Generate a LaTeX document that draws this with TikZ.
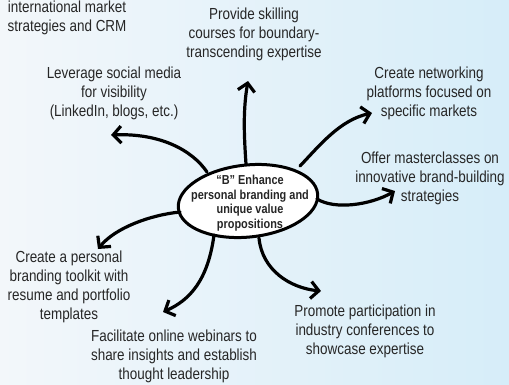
\documentclass[tikz,border=0pt]{standalone}
\usepackage{fontspec}
\setmainfont{Liberation Sans}[FakeStretch=0.84]
\usetikzlibrary{arrows.meta}
\definecolor{bgleft}{HTML}{F3F7FA}
\definecolor{bgright}{HTML}{D6EDF9}
\tikzset{
  lbl/.style={align=center, inner sep=0pt, font=\fontsize{16}{19}\selectfont, text=black!85},
  arr/.style={line width=3.2pt, line cap=round, -{Straight Barb[length=8pt,width=17pt,line width=3.2pt]}}
}
\begin{document}
\begin{tikzpicture}[x=1pt,y=-1pt]
\useasboundingbox (0,0) rectangle (509,384);
\shade[left color=bgleft, right color=bgright] (0,0) rectangle (509,384);

\draw[line width=3pt, fill=white, rotate around={6:(248,201)}] (248,201) ellipse [x radius=70, y radius=36];
\node[align=center, inner sep=0pt, font=\bfseries\fontsize{13}{14.5}\selectfont, text=black!85] (c) at (250,203) {“B” Enhance\\personal branding and\\unique value\\propositions};

\node[lbl] (tl) at (67,17.5) {international market\\strategies and CRM};
\node[lbl] (up) at (254,34) {Provide skilling\\courses for boundary-\\transcending expertise};
\node[lbl] (lv) at (114,93) {Leverage social media\\for visibility\\(LinkedIn, blogs, etc.)};
\node[lbl] (nw) at (429,93) {Create networking\\platforms focused on\\specific markets};
\node[lbl] (mc) at (430,178) {Offer masterclasses on\\innovative brand-building\\strategies};
\node[lbl] (tk) at (69,286.5) {Create a personal\\branding toolkit with\\resume and portfolio\\templates};
\node[lbl] (wb) at (174,356) {Facilitate online webinars to\\share insights and establish\\thought leadership};
\node[lbl] (pc) at (365,331) {Promote participation in\\industry conferences to\\showcase expertise};

\coordinate (s1) at (246,164); \coordinate (e1) at (248,81);
\coordinate (s2) at (207,172); \coordinate (e2) at (111,135);
\coordinate (s3) at (300,166); \coordinate (e3) at (372,113);
\coordinate (s4) at (317,199); \coordinate (e4) at (395,191);
\coordinate (s5) at (259,238); \coordinate (e5) at (321,291);
\coordinate (s6) at (214,235); \coordinate (e6) at (163,312);
\coordinate (s7) at (180,212); \coordinate (e7) at (98,249);

\draw[arr] (s1) .. controls (244,135) and (243,110) .. (e1);
\draw[arr] (s2) .. controls (192,150) and (160,133) .. (e2);
\draw[arr] (s3) .. controls (320,145) and (340,120) .. (e3);
\draw[arr] (s4) .. controls (335,210) and (370,205) .. (e4);
\draw[arr] (s5) .. controls (262,270) and (290,288) .. (e5);
\draw[arr] (s6) .. controls (208,280) and (190,300) .. (e6);
\draw[arr] (s7) .. controls (150,215) and (115,228) .. (e7);
\end{tikzpicture}
\end{document}
